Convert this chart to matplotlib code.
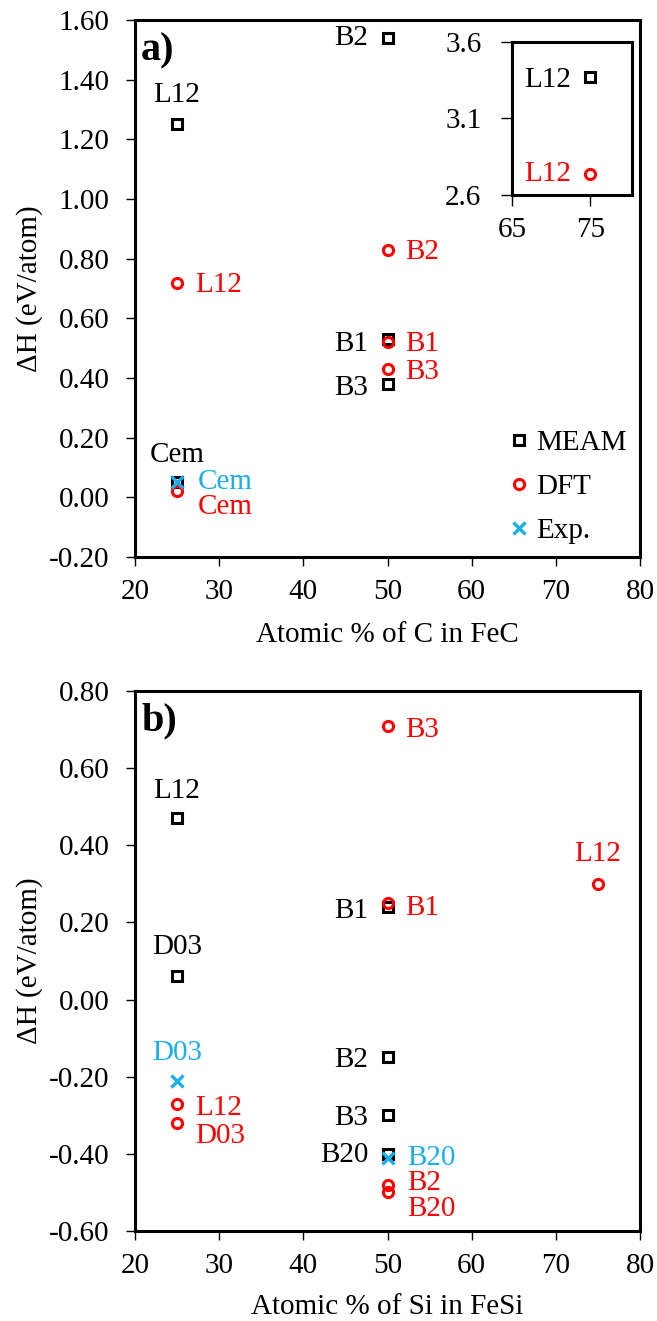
import numpy as np
import matplotlib.pyplot as plt

plt.rcParams['font.family'] = ['Liberation Serif', 'DejaVu Serif']

# -------- Data: formation enthalpy (eV/atom) --------
# Fe-C system
fec_meam_x = [25, 50, 50, 50, 25]
fec_meam_y = [1.25, 1.54, 0.53, 0.38, 0.05]
fec_meam_names = ["L12", "B2", "B1", "B3", "Cem"]

fec_dft_x = [25, 50, 50, 50, 25]
fec_dft_y = [0.72, 0.83, 0.52, 0.43, 0.02]
fec_dft_names = ["L12", "B2", "B1", "B3", "Cem"]

fec_exp_x = [25]
fec_exp_y = [0.05]
fec_exp_names = ["Cem"]

# Fe-C L12 at 75 % C (shown in the small inset)
fec75_meam_x = [75]
fec75_meam_y = [3.37]
fec75_dft_x = [75]
fec75_dft_y = [2.74]

# Fe-Si system
fesi_meam_x = [25, 25, 50, 50, 50, 50]
fesi_meam_y = [0.47, 0.06, 0.24, -0.15, -0.30, -0.40]
fesi_meam_names = ["L12", "D03", "B1", "B2", "B3", "B20"]

fesi_dft_x = [50, 75, 50, 25, 25, 50, 50]
fesi_dft_y = [0.71, 0.30, 0.25, -0.27, -0.32, -0.48, -0.50]
fesi_dft_names = ["B3", "L12", "B1", "L12", "D03", "B2", "B20"]

fesi_exp_x = [25, 50]
fesi_exp_y = [-0.21, -0.41]
fesi_exp_names = ["D03", "B20"]

# -------- Styles --------
RED = "#FF0000"
CYAN = "#1AAEEB"
FS = 21

meam_style = dict(ls="none", marker="s", ms=7.3, mfc="none", mec="black", mew=2.2)
dft_style = dict(ls="none", marker="o", ms=7.3, mfc="none", mec=RED, mew=2.2)
exp_style = dict(ls="none", marker="x", ms=8, mec=CYAN, mew=2.4)

# label offsets in points: (dx, dy, ha)
ABOVE = (0, 20, "center")


def left(dy=0):
    return (-13.7, dy, "right")


def right(dy=0, dx=13):
    return (dx, dy, "left")


def put_labels(ax, xs, ys, names, offsets, color):
    for x, y, name, (dx, dy, ha) in zip(xs, ys, names, offsets):
        ax.annotate(name, (x, y), xytext=(dx, dy), textcoords="offset points",
                    ha=ha, va="center", color=color, fontsize=FS)


def style_axes(ax, ylim, yticks):
    ax.set_xlim(20, 80)
    ax.set_ylim(*ylim)
    ax.set_xticks(np.arange(20, 81, 10))
    ax.set_yticks(yticks)
    ax.set_yticklabels([f"{t:.2f}" for t in yticks])
    for s in ax.spines.values():
        s.set_linewidth(2.2)
    ax.tick_params(direction="out", length=6.5, width=1.0, labelsize=FS)
    ax.tick_params(axis="y", pad=12)
    ax.tick_params(axis="x", pad=9)
    ax.set_ylabel("ΔH (eV/atom)", fontsize=FS)
    ax.yaxis.set_label_coords(-0.182, 0.5)


fig = plt.figure(figsize=(6.57, 13.21), dpi=100)
W, H = 657, 1321

# -------- Panel a: Fe-C --------
ax_a = fig.add_axes([135 / W, 1 - 557 / H, 505 / W, 537 / H])
ax_a.plot(fec_meam_x, fec_meam_y, label="MEAM", **meam_style)
ax_a.plot(fec_dft_x, fec_dft_y, label="DFT", **dft_style)
ax_a.plot(fec_exp_x, fec_exp_y, label="Exp.", **exp_style)
style_axes(ax_a, (-0.2, 1.6), np.arange(-0.2, 1.61, 0.2))
ax_a.set_xlabel("Atomic % of C in FeC", fontsize=FS, va="top")
ax_a.xaxis.set_label_coords(0.5, -0.121)

put_labels(ax_a, fec_meam_x, fec_meam_y, fec_meam_names,
           [(0, 21, "center"), left(), left(-3.4), left(-3), ABOVE], "black")
put_labels(ax_a, fec_dft_x, fec_dft_y, fec_dft_names,
           [right(-2), right(-2), right(-1), right(-2), right(-11.5, 15)], RED)
put_labels(ax_a, fec_exp_x, fec_exp_y, fec_exp_names, [right(0, 15)], CYAN)

ax_a.text(0.012, 0.943, "a)", transform=ax_a.transAxes, fontsize=29,
          fontweight="bold", ha="left", va="center")

leg = ax_a.legend(loc="lower right", frameon=False, fontsize=FS,
                  handlelength=0.6, handletextpad=0.3, labelspacing=0.6,
                  borderaxespad=0.05)

# inset with the 75 % point
ins = fig.add_axes([512 / W, 1 - 195 / H, 120 / W, 153 / H])
ins.plot(fec75_meam_x, fec75_meam_y, **meam_style)
ins.plot(fec75_dft_x, fec75_dft_y, **dft_style)
ins.set_xlim(65, 80.3)
ins.set_ylim(2.6, 3.6)
ins.set_xticks([65, 75])
ins.set_yticks([2.6, 3.1, 3.6])
ins.set_yticklabels(["2.6", "3.1", "3.6"])
for s in ins.spines.values():
    s.set_linewidth(2.2)
ins.tick_params(direction="out", length=8, width=1.0, labelsize=FS)
ins.tick_params(axis="y", pad=14)
ins.tick_params(axis="x", pad=8)
put_labels(ins, fec75_meam_x, fec75_meam_y, ["L12"], [left(-2)], "black")
put_labels(ins, fec75_dft_x, fec75_dft_y, ["L12"], [left(0)], RED)

# -------- Panel b: Fe-Si --------
ax_b = fig.add_axes([135 / W, 1 - 1231 / H, 505 / W, 540 / H])
ax_b.plot(fesi_meam_x, fesi_meam_y, **meam_style)
ax_b.plot(fesi_dft_x, fesi_dft_y, **dft_style)
ax_b.plot(fesi_exp_x, fesi_exp_y, **exp_style)
style_axes(ax_b, (-0.6, 0.8), np.arange(-0.6, 0.81, 0.2))
ax_b.set_xlabel("Atomic % of Si in FeSi", fontsize=FS, va="top")
ax_b.xaxis.set_label_coords(0.5, -0.117)

put_labels(ax_b, fesi_meam_x, fesi_meam_y, fesi_meam_names,
           [ABOVE, (0, 21, "center"), left(-3), left(-1.5), left(-2), left(-1)], "black")
put_labels(ax_b, fesi_dft_x, fesi_dft_y, fesi_dft_names,
           [right(-3), (0, 21.6, "center"), right(-3.5), right(-3), right(-9.5),
            right(1.5, 14.4), right(-12, 14.4)], RED)
put_labels(ax_b, fesi_exp_x, fesi_exp_y, fesi_exp_names,
           [(0, 19.5, "center"), right(0, 14.4)], CYAN)

ax_b.text(0.012, 0.945, "b)", transform=ax_b.transAxes, fontsize=29,
          fontweight="bold", ha="left", va="center")

fig.savefig("out.png", dpi=100)
